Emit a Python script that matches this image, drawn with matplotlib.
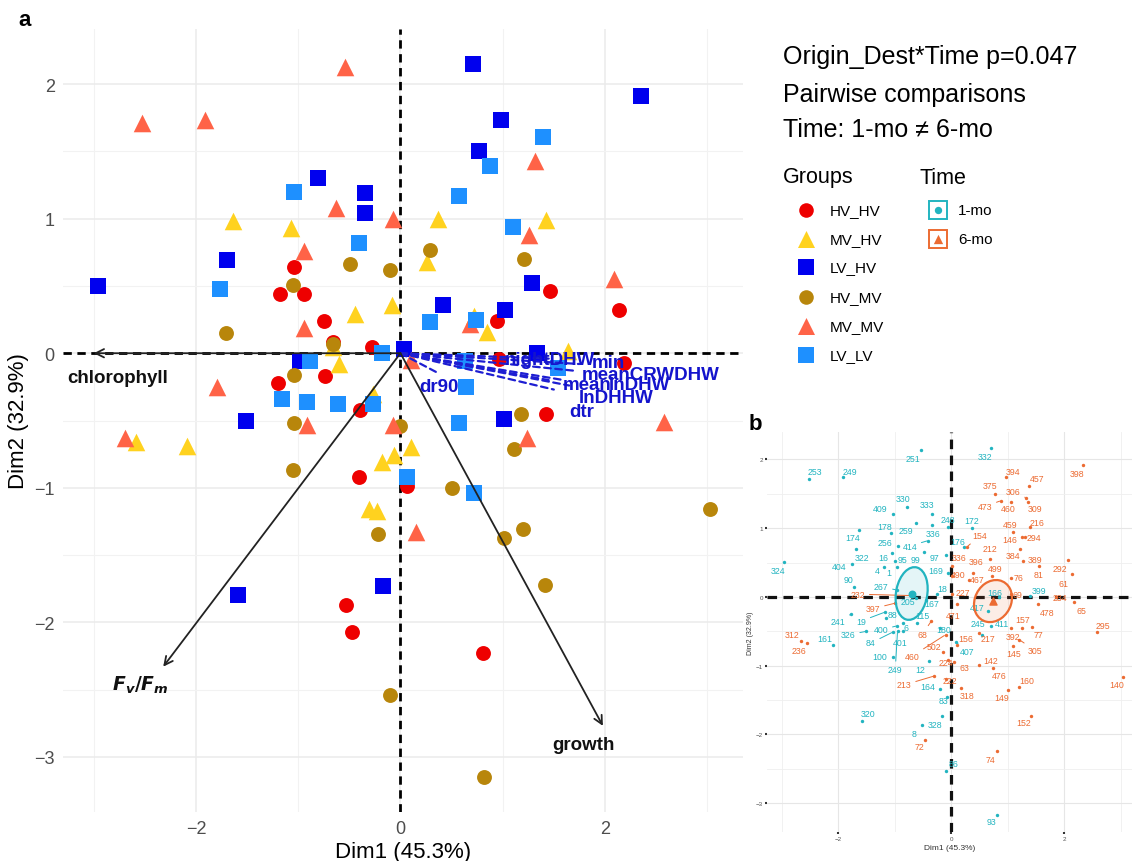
import numpy as np
import matplotlib
matplotlib.use("Agg")
import matplotlib.pyplot as plt
from matplotlib.patches import Ellipse, Rectangle

plt.rcParams['font.family'] = ['Liberation Sans', 'DejaVu Sans']
plt.rcParams['mathtext.fontset'] = 'dejavusans'

# ---------------- Panel a: PCA individuals by group ----------------
hv_hv_x = [-1.04, -1.18, -0.94, -0.75, -0.66, -0.28, -0.74, -1.20, -0.40, -0.41, 0.06, -0.53, -0.47,
           1.46, 2.14, 0.94, 0.96, 2.19, 1.42, 0.81]
hv_hv_y = [0.64, 0.44, 0.44, 0.24, 0.08, 0.05, -0.17, -0.22, -0.42, -0.92, -0.99, -1.87, -2.07,
           0.46, 0.32, 0.24, -0.04, -0.07, -0.45, -2.23]

mv_hv_x = [-1.64, -1.07, -0.08, -0.44, -0.66, -0.60, -0.27, -2.59, -2.09, 0.10, -0.06, -0.18, -0.31,
           -0.23, 0.37, 1.42, 0.26, 0.72, 0.85, 1.64]
mv_hv_y = [0.98, 0.93, 0.36, 0.29, 0.05, -0.08, -0.30, -0.66, -0.69, -0.70, -0.76, -0.81, -1.16,
           -1.17, 1.00, 0.99, 0.68, 0.28, 0.16, 0.02]

lv_hv_x = [-0.81, -0.35, -0.35, -1.70, -2.96, 0.03, -0.98, -1.51, -0.17, -1.59, 0.71, 2.35, 0.98,
           0.77, 1.29, 0.42, 1.02, 1.34, 1.01]
lv_hv_y = [1.30, 1.19, 1.04, 0.69, 0.50, 0.03, -0.06, -0.50, -1.73, -1.80, 2.15, 1.91, 1.73,
           1.50, 0.52, 0.36, 0.32, 0.00, -0.49]

hv_mv_x = [-0.49, -0.10, -1.05, -1.71, -0.66, -1.04, -1.04, 0.00, -1.05, -0.22, -0.10, 0.29, 1.21,
           1.18, 1.11, 0.50, 3.03, 1.20, 1.01, 1.41, 0.82]
hv_mv_y = [0.66, 0.62, 0.51, 0.15, 0.07, -0.16, -0.52, -0.54, -0.87, -1.34, -2.54, 0.77, 0.70,
           -0.45, -0.71, -1.00, -1.16, -1.31, -1.37, -1.72, -3.15]

mv_mv_x = [-0.54, -2.53, -1.91, -0.63, -0.07, -0.94, -0.94, 0.10, -1.79, -0.91, -0.07, -2.69, 0.15,
           1.32, 1.26, 2.09, 0.68, 2.58, 1.24]
mv_mv_y = [2.13, 1.71, 1.73, 1.08, 1.00, 0.76, 0.19, -0.05, -0.25, -0.53, -0.53, -0.63, -1.33,
           1.43, 0.88, 0.55, 0.22, -0.51, -0.63]

lv_lv_x = [-1.04, -0.41, -1.76, -0.18, -0.88, -1.16, -0.91, -0.61, -0.27, 0.06, 1.39, 0.88, 0.57,
           1.10, 0.29, 0.74, 0.63, 1.54, 0.64, 0.57, 0.72]
lv_lv_y = [1.20, 0.82, 0.48, 0.00, -0.06, -0.34, -0.36, -0.38, -0.38, -0.92, 1.61, 1.39, 1.17,
           0.94, 0.23, 0.25, -0.06, -0.11, -0.25, -0.52, -1.04]

group_names = ["HV_HV", "MV_HV", "LV_HV", "HV_MV", "MV_MV", "LV_LV"]
group_colors = ["#EE0000", "#FFD21F", "#0000EE", "#B8860B", "#FF6347", "#1E90FF"]
group_markers = ["o", "^", "s", "o", "^", "s"]
group_x = [hv_hv_x, mv_hv_x, lv_hv_x, hv_mv_x, mv_mv_x, lv_lv_x]
group_y = [hv_hv_y, mv_hv_y, lv_hv_y, hv_mv_y, mv_mv_y, lv_lv_y]

# response variables (solid black arrows)
resp_names = ["chlorophyll", r"$\mathbfit{F}_{\mathbfit{v}}\mathbf{/}\mathbfit{F}_{\mathbfit{m}}$", "growth"]
resp_x = [-3.00, -2.32, 1.98]
resp_y = [0.00, -2.33, -2.77]
resp_lab_x = [-3.26, -2.54, 1.79]
resp_lab_y = [-0.18, -2.46, -2.91]

# thermal-history variables (dashed blue arrows)
env_names = ["nightDHW", "min", "meanCRWDHW", "mean", "lnDHW", "lnDHHW", "dtr", "dr90"]
env_x = [1.45, 1.75, 1.70, 1.45, 1.60, 1.65, 1.50, 0.35]
env_y = [-0.04, -0.08, -0.13, -0.20, -0.20, -0.24, -0.27, -0.14]
env_lab_x = [1.46, 2.03, 2.45, 1.83, 2.34, 2.11, 1.77, 0.38]
env_lab_y = [-0.05, -0.07, -0.16, -0.23, -0.23, -0.33, -0.43, -0.25]

# ---------------- Panel b: labelled individuals by time ----------------
t1_ids = ["251", "332", "253", "249", "330", "333", "409", "248", "172", "178", "259", "336", "174",
          "176", "256", "414", "322", "16", "95", "99", "97", "404", "324", "4", "1", "169", "90",
          "267", "18", "205", "167", "399", "166", "417", "241", "19", "88", "115", "400", "6",
          "245", "411", "180", "326", "161", "84", "401", "407", "100", "249", "12", "164", "83",
          "320", "328", "8", "86", "93"]
t1_x = [-0.53, 0.71, -2.51, -1.91, -0.78, -0.34, -1.03, -0.05, 0.37, -1.06, -0.62, -0.34, -1.63,
        0.22, -0.94, -0.41, -1.68, -1.04, -0.99, -0.49, -0.10, -1.75, -2.96, -1.19, -0.96, -0.05, -1.72,
        -0.96, -0.25, -0.62, -0.45, 1.40, 0.85, 0.65, -1.77, -1.17, -1.15, -0.60, -0.96, -0.85,
        0.55, 0.70, -0.20, -1.50, -2.09, -1.03, -0.85, 0.08, -1.03, -0.95, -0.39, -0.19, -0.08,
        -1.58, -0.16, -0.51, -0.10, 0.81]
t1_y = [2.14, 2.17, 1.72, 1.75, 1.31, 1.21, 1.21, 1.02, 1.00, 0.93, 1.08, 1.05, 0.98,
        0.72, 0.74, 0.82, 0.70, 0.64, 0.52, 0.65, 0.61, 0.48, 0.51, 0.44, 0.44, 0.35, 0.15,
        0.10, 0.05, -0.02, -0.05, 0.02, 0.00, -0.20, -0.25, -0.22, -0.30, -0.38, -0.42, -0.38,
        -0.55, -0.42, -0.45, -0.50, -0.70, -0.51, -0.50, -0.65, -0.87, -0.50, -0.93, -1.34, -1.45,
        -1.80, -1.73, -1.86, -2.53, -3.17]
t1_lx = [-0.67, 0.60, -2.41, -1.79, -0.85, -0.42, -1.26, -0.05, 0.37, -1.17, -0.81, -0.32, -1.74,
         0.12, -1.17, -0.73, -1.58, -1.20, -0.87, -0.64, -0.30, -1.98, -3.06, -1.31, -1.10, -0.28, -1.82,
         -1.24, -0.16, -0.76, -0.34, 1.56, 0.78, 0.46, -2.00, -1.59, -1.03, -0.51, -1.24, -0.80,
         0.48, 0.90, -0.14, -1.82, -2.23, -1.42, -0.90, 0.28, -1.27, -0.99, -0.55, -0.42, -0.14,
         -1.47, -0.28, -0.65, 0.04, 0.71]
t1_ly = [2.02, 2.05, 1.82, 1.82, 1.43, 1.34, 1.28, 1.13, 1.11, 1.02, 0.96, 0.93, 0.86,
         0.80, 0.79, 0.74, 0.58, 0.57, 0.54, 0.55, 0.58, 0.45, 0.38, 0.38, 0.35, 0.38, 0.26,
         0.15, 0.13, -0.06, -0.10, 0.10, 0.07, -0.15, -0.35, -0.35, -0.25, -0.27, -0.48, -0.45,
         -0.39, -0.38, -0.47, -0.55, -0.61, -0.67, -0.66, -0.80, -0.86, -1.06, -1.06, -1.30, -1.50,
         -1.70, -1.86, -1.98, -2.43, -3.26]

t6_ids = ["398", "394", "457", "375", "306", "473", "460", "309", "216", "459", "154", "146", "294",
          "212", "384", "389", "336", "396", "292", "81", "499", "76", "467", "490", "61", "227",
          "232", "397", "234", "471", "478", "65", "295", "157", "392", "77", "305", "145", "156",
          "217", "142", "63", "476", "160", "140", "318", "149", "152", "74", "222", "224", "312",
          "236", "68", "460", "502", "213", "72", "69"]
t6_x = [2.34, 0.97, 1.38, 0.78, 1.33, 0.88, 1.05, 1.36, 1.40, 1.10, 0.28, 1.26, 1.30,
        0.69, 1.22, 1.27, 0.02, 0.39, 2.07, 1.55, 0.72, 1.05, 0.32, 0.02, 2.14, 0.02,
        -0.70, -0.99, 1.85, 0.10, 1.54, 2.17, 2.58, 1.25, 1.05, 1.43, 1.20, 1.10, 0.10,
        0.50, 0.50, 0.05, 0.74, 1.20, 3.04, 0.18, 1.01, 1.42, 0.81, -0.10, -0.05, -2.65,
        -2.56, -0.35, -0.10, -0.15, -0.30, -0.46, 1.05]
t6_y = [1.92, 1.75, 1.62, 1.50, 1.44, 1.40, 1.38, 1.38, 1.02, 0.95, 0.73, 0.87, 0.87,
        0.55, 0.70, 0.52, 0.45, 0.35, 0.54, 0.45, 0.30, 0.28, 0.25, 0.30, 0.33, 0.05,
        0.02, -0.09, 0.00, -0.10, -0.10, -0.07, -0.51, -0.45, -0.45, -0.44, -0.62, -0.71, -0.70,
        -0.52, -0.99, -0.95, -1.04, -1.31, -1.16, -1.33, -1.36, -1.73, -2.24, -1.20, -0.92, -0.64,
        -0.67, -0.35, -0.55, -0.80, -1.15, -2.08, 0.05]
t6_lx = [2.23, 1.10, 1.52, 0.69, 1.10, 0.60, 1.01, 1.49, 1.52, 1.04, 0.51, 1.04, 1.47,
         0.69, 1.10, 1.49, 0.14, 0.44, 1.93, 1.54, 0.78, 1.19, 0.46, 0.12, 1.98, 0.21,
         -1.65, -1.38, 1.93, 0.04, 1.70, 2.30, 2.69, 1.27, 1.10, 1.54, 1.49, 1.10, 0.25,
         0.65, 0.69, 0.23, 0.85, 1.33, 2.92, 0.28, 0.90, 1.29, 0.69, -0.02, -0.10, -2.81,
         -2.69, -0.51, -0.69, -0.30, -0.83, -0.57, 1.18]
t6_ly = [1.80, 1.83, 1.72, 1.62, 1.53, 1.32, 1.28, 1.29, 1.09, 1.06, 0.89, 0.84, 0.87,
         0.70, 0.60, 0.55, 0.58, 0.51, 0.41, 0.33, 0.41, 0.29, 0.26, 0.33, 0.20, 0.07,
         0.04, -0.17, -0.01, -0.27, -0.22, -0.19, -0.41, -0.33, -0.57, -0.54, -0.78, -0.83, -0.60,
         -0.61, -0.92, -1.02, -1.15, -1.22, -1.28, -1.44, -1.47, -1.83, -2.36, -1.22, -0.95, -0.54,
         -0.78, -0.54, -0.86, -0.72, -1.28, -2.18, 0.04]

# group centroids and concentration ellipses
t_cent_x = [-0.70, 0.74]
t_cent_y = [0.05, -0.06]
t_ell_w = [0.55, 0.70]
t_ell_h = [0.78, 0.58]
t_ell_ang = [-15, 30]

TEAL = "#22B4C0"
ORANGE = "#EC6B32"

fig = plt.figure(figsize=(11.34, 8.62), dpi=100)
fig.patch.set_facecolor("white")

# ---------------- draw panel a ----------------
ax = fig.add_axes([63 / 1134, 1 - 813 / 862, 680 / 1134, 783 / 862])
ax.set_xlim(-3.30, 3.35)
ax.set_ylim(-3.41, 2.41)
for s in ax.spines.values():
    s.set_visible(False)
ax.set_xticks([-2, 0, 2])
ax.set_yticks([-3, -2, -1, 0, 1, 2])
ax.set_xticks([-3, -1, 1, 3], minor=True)
ax.set_yticks([-2.5, -1.5, -0.5, 0.5, 1.5], minor=True)
ax.grid(True, which="major", color="#EBEBEB", lw=1.1)
ax.grid(True, which="minor", color="#F2F2F2", lw=0.8)
ax.tick_params(which="both", length=0, labelsize=13, labelcolor="#4D4D4D", pad=6)
ax.set_axisbelow(True)
ax.set_xlabel("Dim1 (45.3%)", fontsize=16, labelpad=3)
ax.set_ylabel("Dim2 (32.9%)", fontsize=16, labelpad=4)
ax.axhline(0, color="black", lw=2, ls=(0, (3, 2)), zorder=1)
ax.axvline(0, color="black", lw=2, ls=(0, (3, 2)), zorder=1)

for gx, gy, c, m in zip(group_x, group_y, group_colors, group_markers):
    size = 160 if m == "^" else (120 if m == "s" else 115)
    ax.scatter(gx, gy, s=size, c=c, marker=m, linewidths=0, zorder=3)

for nm, ex, ey, lx, ly in zip(env_names, env_x, env_y, env_lab_x, env_lab_y):
    ax.annotate("", xy=(ex, ey), xytext=(0, 0),
                arrowprops=dict(arrowstyle="-", color="#1E1ED2", lw=1.6, ls=(0, (3, 2)),
                                shrinkA=0, shrinkB=0), zorder=4)
    ax.text(lx, ly, nm, color="#1414CC", fontsize=13.5, fontweight="bold",
            ha="center", va="center", zorder=5)

for nm, ex, ey, lx, ly in zip(resp_names, resp_x, resp_y, resp_lab_x, resp_lab_y):
    ax.annotate("", xy=(ex, ey), xytext=(0, 0),
                arrowprops=dict(arrowstyle="->,head_length=0.6,head_width=0.3", color="#222222",
                                lw=1.3, shrinkA=0, shrinkB=0), zorder=4)
    ha = "left" if nm == "chlorophyll" else "center"
    ax.text(lx, ly, nm, color="#111111", fontsize=13.5, fontweight="bold",
            ha=ha, va="center", zorder=5)

# ---------------- draw panel b ----------------
bx = fig.add_axes([767 / 1134, 1 - 833 / 862, 365 / 1134, 400 / 862])
bx.set_xlim(-3.26, 3.20)
bx.set_ylim(-3.42, 2.40)
for s in bx.spines.values():
    s.set_visible(False)
bx.set_xticks([-2, 0, 2])
bx.set_yticks([-3, -2, -1, 0, 1, 2])
bx.set_xticks([-3, -1, 1, 3], minor=True)
bx.set_yticks([-2.5, -1.5, -0.5, 0.5, 1.5], minor=True)
bx.grid(True, which="major", color="#E6E6E6", lw=0.8)
bx.grid(True, which="minor", color="#EFEFEF", lw=0.6)
bx.tick_params(which="major", length=1.5, width=1.5, color="#333333",
               labelsize=4.5, labelcolor="#555555", pad=1.5)
bx.tick_params(which="minor", length=0)
bx.set_axisbelow(True)
bx.set_xlabel("Dim1 (45.3%)", fontsize=6, labelpad=2, color="#333333")
bx.set_ylabel("Dim2 (32.9%)", fontsize=5, labelpad=1, color="#333333")
bx.axhline(0, color="#111111", lw=2.3, ls=(0, (3, 2)), zorder=1)
bx.axvline(0, color="#111111", lw=2.3, ls=(0, (3, 2)), zorder=1)

xs_per_px = 6.46 / 365
ys_per_px = 5.82 / 400


def label_points(ids, px, py, lx, ly, color):
    bx.scatter(px, py, s=6, c=color, linewidths=0, zorder=3)
    for t, x0, y0, x1, y1 in zip(ids, px, py, lx, ly):
        far = np.hypot((x1 - x0) / xs_per_px, (y1 - y0) / ys_per_px) > 14
        props = dict(arrowstyle="-", color=color, lw=0.7, shrinkA=1, shrinkB=1) if far else None
        bx.annotate(t, xy=(x0, y0), xytext=(x1, y1), color=color, fontsize=6.3,
                    ha="center", va="center", arrowprops=props, zorder=4)


label_points(t1_ids, t1_x, t1_y, t1_lx, t1_ly, TEAL)
label_points(t6_ids, t6_x, t6_y, t6_lx, t6_ly, ORANGE)

for cx, cy, w, h, a, col in zip(t_cent_x, t_cent_y, t_ell_w, t_ell_h, t_ell_ang, [TEAL, ORANGE]):
    bx.add_patch(Ellipse((cx, cy), w, h, angle=a, facecolor=col, alpha=0.12, zorder=2))
    bx.add_patch(Ellipse((cx, cy), w, h, angle=a, facecolor="none", edgecolor=col, lw=1.6, zorder=5))
bx.scatter(t_cent_x[:1], t_cent_y[:1], s=22, c=TEAL, marker="o", zorder=6)
bx.scatter(t_cent_x[1:], t_cent_y[1:], s=26, c=ORANGE, marker="^", zorder=6)

# ---------------- annotation / legend layer ----------------
ov = fig.add_axes([0, 0, 1, 1], facecolor="none")
ov.set_xlim(0, 1134)
ov.set_ylim(862, 0)
ov.axis("off")

ov.text(18, 20, "a", fontsize=16, fontweight="bold", ha="left", va="center")
ov.text(749, 425, "b", fontsize=16, fontweight="bold", ha="left", va="center")

ov.text(783, 57, "Origin_Dest*Time p=0.047", fontsize=18, ha="left", va="center")
ov.text(783, 95, "Pairwise comparisons", fontsize=18, ha="left", va="center")
ov.text(783, 130, "Time: 1-mo \u2260 6-mo", fontsize=18, ha="left", va="center")

ov.text(783, 178, "Groups", fontsize=15.5, ha="left", va="center")
ov.text(920, 178, "Time", fontsize=15.5, ha="left", va="center")
leg_y = [211, 240, 268, 298, 327, 356]
for yy, nm, c, m in zip(leg_y, group_names, group_colors, group_markers):
    size = 150 if m == "^" else (120 if m == "s" else 110)
    ov.scatter([806], [yy], s=size, c=c, marker=m, linewidths=0)
    ov.text(830, yy, nm, fontsize=11, ha="left", va="center")

for yy, nm, col, m in zip(leg_y[:2], ["1-mo", "6-mo"], [TEAL, ORANGE], ["o", "^"]):
    ov.add_patch(Rectangle((929, yy - 9), 18, 18, facecolor="white", edgecolor=col, lw=1.4))
    ov.scatter([938], [yy], s=28 if m == "o" else 45, c=col, marker=m, linewidths=0)
    ov.text(958, yy, nm, fontsize=11, ha="left", va="center")

fig.savefig("out.png", dpi=100)
